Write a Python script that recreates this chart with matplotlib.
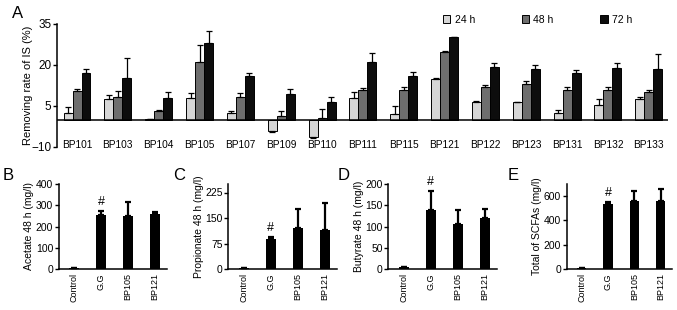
import numpy as np
import matplotlib
matplotlib.use('Agg')
import matplotlib.pyplot as plt
from matplotlib.patches import Patch

plt.rcParams['font.family'] = ['Liberation Sans', 'DejaVu Sans']
plt.rcParams['axes.linewidth'] = 1.1

# ---- panel A data ----
strains = ['BP101', 'BP103', 'BP104', 'BP105', 'BP107', 'BP109', 'BP110', 'BP111',
           'BP115', 'BP121', 'BP122', 'BP123', 'BP131', 'BP132', 'BP133']
h24 = [2.3, 7.4, 0.2, 8.1, 2.6, -4.2, -6.3, 7.9, 2.1, 14.7, 6.3, 6.4, 2.6, 5.4, 7.5]
sd24 = [2.4, 1.7, 0.0, 1.7, 0.6, 0.4, 0.3, 2.4, 2.8, 0.7, 0.7, 0.1, 1.1, 2.2, 0.8]
h48 = [10.4, 8.2, 3.2, 21.1, 8.2, 1.4, 0.7, 11.0, 11.0, 24.8, 12.0, 12.9, 10.9, 11.0, 10.1]
sd48 = [0.8, 2.2, 0.4, 6.3, 1.5, 1.7, 3.3, 0.6, 1.0, 0.4, 0.7, 1.2, 1.2, 0.8, 0.8]
h72 = [16.9, 15.2, 7.9, 27.9, 15.9, 9.3, 6.5, 21.1, 15.8, 30.2, 19.3, 18.5, 17.1, 19.0, 18.6]
sd72 = [1.8, 7.5, 2.4, 4.4, 1.1, 2.0, 1.7, 3.3, 1.7, 0.2, 1.4, 1.6, 1.0, 1.7, 5.3]
time_labels = ['24 h', '48 h', '72 h']
time_colors = ['#d6d6d6', '#6e6e6e', '#0d0d0d']

# ---- panels B-E data ----
groups = ['Control', 'G.G', 'BP105', 'BP121']
acetate = [3, 253, 248, 258]
acetate_sd = [2, 21, 66, 11]
propionate = [2, 88, 120, 115]
propionate_sd = [1, 7, 56, 79]
butyrate = [4, 140, 105, 121]
butyrate_sd = [1, 44, 35, 21]
total = [5, 532, 562, 562]
total_sd = [1, 19, 84, 98]

W, H = 677, 310
fig = plt.figure(figsize=(W / 100, H / 100), dpi=100)


def px_axes(left, top, right, bottom):
    return fig.add_axes([left / W, 1 - bottom / H, (right - left) / W, (bottom - top) / H])


# ---------------- panel A ----------------
ax = px_axes(57, 24, 668, 147)
x = np.arange(len(strains))
bw = 0.22
for k, (vals, sds) in enumerate(zip([h24, h48, h72], [sd24, sd48, sd72])):
    pos = x + (k - 1) * bw
    vals = np.array(vals)
    sds = np.array(sds)
    ax.bar(pos, vals, width=bw, color=time_colors[k], edgecolor='black',
           linewidth=0.7, label=time_labels[k], zorder=2)
    lower = np.where(vals < 0, sds, 0)
    upper = np.where(vals >= 0, sds, 0)
    ax.errorbar(pos, vals, yerr=[lower, upper], fmt='none', ecolor='black',
                elinewidth=0.9, capsize=2, capthick=0.9, zorder=3)
ax.axhline(0, color='black', linewidth=1.1, zorder=4)
ax.set_xlim(-0.49, 14.47)
ax.set_ylim(-10, 35)
ax.set_yticks([-10, 5, 20, 35])
ax.set_yticklabels(['\u221210', '5', '20', '35'])
ax.set_xticks(x)
ax.set_xticklabels(strains, fontsize=7.3)
ax.tick_params(axis='x', length=0, pad=-5)
ax.tick_params(axis='y', labelsize=8.5, length=3, width=1, pad=1)
for s in ['top', 'right', 'bottom']:
    ax.spines[s].set_visible(False)
ax.set_ylabel('Removing rate of IS (%)', fontsize=8, labelpad=-1)
handles = [Patch(facecolor=c, edgecolor='black', linewidth=0.7) for c in time_colors]
ax.legend(handles, time_labels, ncol=3, frameon=False, fontsize=7.5,
          loc='center left', bbox_to_anchor=(0.632, 1.035),
          handlelength=0.7, handleheight=0.7, handletextpad=0.4,
          columnspacing=4.5, borderaxespad=0, borderpad=0)
fig.text(12 / W, 1 - 13 / H, 'A', fontsize=12, va='center', ha='left')

# ---------------- panels B-E ----------------
panels = [
    ('B', (58.7, 166.7, 3), acetate, acetate_sd, 'Acetate 48 h (mg/l)', (0, 400), [0, 100, 200, 300, 400]),
    ('C', (228.3, 336.7, 173), propionate, propionate_sd, 'Propionate 48 h (mg/l)', (0, 250), [0, 75, 150, 225]),
    ('D', (388.3, 496.7, 338), butyrate, butyrate_sd, 'Butyrate 48 h (mg/l)', (0, 200), [0, 50, 100, 150, 200]),
    ('E', (566.7, 672, 508), total, total_sd, 'Total of SCFAs (mg/l)', (0, 700), [0, 200, 400, 600]),
]
xg = np.arange(len(groups))
for letter, (l, r, lx), vals, sds, ylab, ylim, yt in panels:
    axb = px_axes(l, 184, r, 269)
    axb.bar(xg, vals, width=0.36, color='black', zorder=2)
    axb.errorbar(xg, vals, yerr=[np.zeros(len(sds)), sds], fmt='none', ecolor='black',
                 elinewidth=1.6, capsize=2.5, capthick=1.6, zorder=3)
    axb.set_xlim(-0.57, 3.43)
    axb.set_ylim(*ylim)
    axb.set_yticks(yt)
    axb.set_xticks(xg)
    axb.set_xticklabels(groups, rotation=90, fontsize=6.5)
    axb.tick_params(axis='x', length=0, pad=3)
    axb.tick_params(axis='y', labelsize=7.5, length=3, width=1, pad=1)
    for s in ['top', 'right']:
        axb.spines[s].set_visible(False)
    axb.set_ylabel(ylab, fontsize=7.5, labelpad=1)
    axb.annotate('#', (1, vals[1] + sds[1]), xytext=(0, 2), textcoords='offset points',
                 ha='center', va='bottom', fontsize=9)
    fig.text(lx / W, 1 - 176 / H, letter, fontsize=12, va='center', ha='left')

fig.savefig('out.png', dpi=100)
